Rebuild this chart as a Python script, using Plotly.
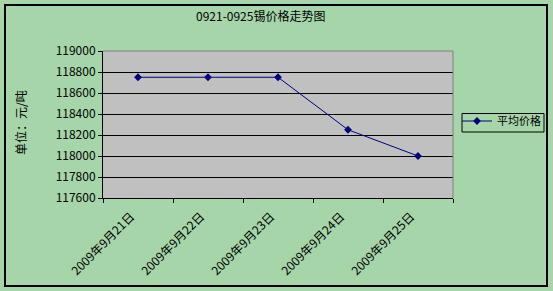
import plotly.graph_objects as go

categories = ["2009年9月21日", "2009年9月22日", "2009年9月23日", "2009年9月24日", "2009年9月25日"]
prices = [118750, 118750, 118750, 118250, 118000]
series_name = "平均价格"
title_text = "0921-0925锡价格走势图"
y_title = "单位：元/吨"
y_ticks = [117600, 117800, 118000, 118200, 118400, 118600, 118800, 119000]

W, H = 553, 291
L, R, T, B = 103, 453, 51, 198
pw, ph = R - L, B - T

def px_x(p):
    return (p - L) / pw

def px_y(p):
    return (B - p) / ph

green = "#A6D5AA"
font = "Noto Sans CJK SC"

fig = go.Figure()
fig.add_trace(go.Scatter(
    x=categories, y=prices, mode="lines+markers", name=series_name,
    line=dict(color="#000080", width=1),
    marker=dict(symbol="diamond", size=6, color="#000080"),
))

fig.update_layout(
    width=W, height=H,
    margin=dict(l=L, r=W - R, t=T, b=H - B, autoexpand=False),
    paper_bgcolor=green, plot_bgcolor="#C0C0C0",
    font=dict(family=font, size=12, color="black"),
    showlegend=True,
    legend=dict(xref="container", yref="container",
                x=457 / W, y=1 - 106.5 / H, xanchor="left", yanchor="top",
                bgcolor="rgba(0,0,0,0)", borderwidth=0,
                font=dict(size=11), itemwidth=30, tracegroupgap=0),
    xaxis=dict(type="category", range=[-0.5, 4.5], tickson="boundaries",
               ticks="outside", ticklen=4, tickcolor="black",
               showline=True, linecolor="black", linewidth=1,
               showgrid=False, tickangle=-45,
               ticklabelstandoff=6, ticklabelshift=-7,
               tickfont=dict(size=12, family=font)),
    yaxis=dict(range=[117600, 119000], tickvals=y_ticks,
               ticktext=[str(v) for v in y_ticks],
               ticks="outside", ticklen=4, tickcolor="black",
               showline=True, linecolor="black", linewidth=1,
               showgrid=True, gridcolor="black", gridwidth=1,
               zeroline=False, tickfont=dict(size=12, family=font)),
    shapes=[
        dict(type="line", xref="paper", yref="paper", x0=0, x1=1, y0=1, y1=1,
             line=dict(color="#808080", width=1)),
        dict(type="line", xref="paper", yref="paper", x0=1, x1=1, y0=0, y1=1,
             line=dict(color="#808080", width=1)),
        dict(type="rect", xref="paper", yref="paper",
             x0=px_x(5), x1=px_x(547), y0=px_y(5), y1=px_y(286),
             line=dict(color="black", width=2), layer="above"),
        dict(type="rect", xref="paper", yref="paper",
             x0=px_x(462), x1=px_x(544), y0=px_y(113.5), y1=px_y(132),
             line=dict(color="black", width=1), layer="below"),
    ],
    annotations=[
        dict(text=title_text, xref="paper", yref="paper", x=px_x(260), y=px_y(16),
             xanchor="center", yanchor="middle", showarrow=False,
             font=dict(size=12, family=font)),
        dict(text=y_title, xref="paper", yref="paper", x=px_x(20), y=px_y(123),
             xanchor="center", yanchor="middle", showarrow=False, textangle=-90,
             font=dict(size=12, family=font)),
    ],
)

fig.write_html("out.html")
